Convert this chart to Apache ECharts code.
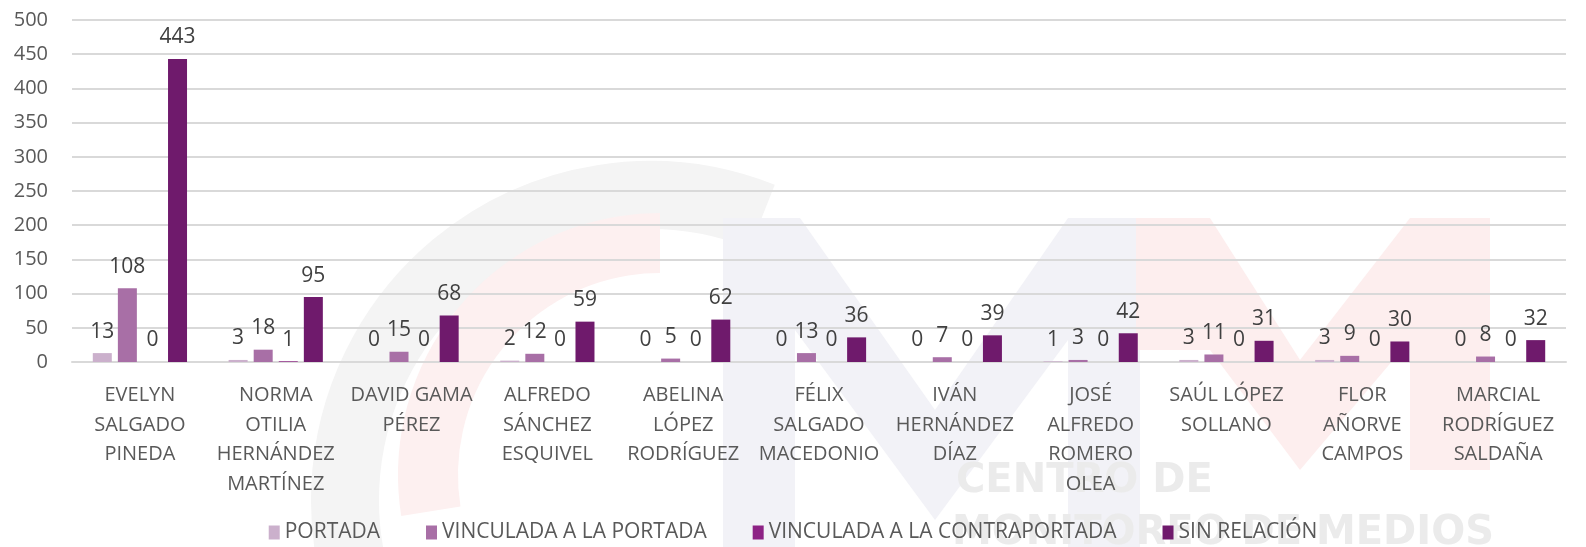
<!DOCTYPE html>
<html>
<head>
<meta charset="utf-8">
<script src="https://cdn.jsdelivr.net/npm/echarts@6/dist/echarts.min.js"></script>
<style>
html,body{margin:0;padding:0;background:#fff;}
#c{width:1586px;height:547px;}
</style>
</head>
<body>
<div id="c"></div>
<script>
var categories = [
  "EVELYN\nSALGADO\nPINEDA",
  "NORMA\nOTILIA\nHERNÁNDEZ\nMARTÍNEZ",
  "DAVID GAMA\nPÉREZ",
  "ALFREDO\nSÁNCHEZ\nESQUIVEL",
  "ABELINA\nLÓPEZ\nRODRÍGUEZ",
  "FÉLIX\nSALGADO\nMACEDONIO",
  "IVÁN\nHERNÁNDEZ\nDÍAZ",
  "JOSÉ\nALFREDO\nROMERO\nOLEA",
  "SAÚL LÓPEZ\nSOLLANO",
  "FLOR\nAÑORVE\nCAMPOS",
  "MARCIAL\nRODRÍGUEZ\nSALDAÑA"
];
var seriesNames = ["PORTADA", "VINCULADA A LA PORTADA", "VINCULADA A LA CONTRAPORTADA", "SIN RELACIÓN"];
var portada = [13, 3, 0, 2, 0, 0, 0, 1, 3, 3, 0];
var vinculadaPortada = [108, 18, 15, 12, 5, 13, 7, 3, 11, 9, 8];
var vinculadaContraportada = [0, 1, 0, 0, 0, 0, 0, 0, 0, 0, 0];
var sinRelacion = [443, 95, 68, 59, 62, 36, 39, 42, 31, 30, 32];
var yTicks = [0, 50, 100, 150, 200, 250, 300, 350, 400, 450, 500];

var colors = ["#CBB0CC", "#A86FA6", "#8D2285", "#6F1A6C"];
var FONT = "'Open Sans', sans-serif";
var TXT = "#595959";

var chart = echarts.init(document.getElementById('c'), null, {renderer: 'canvas'});

function mk(name, data, i) {
  return {
    name: name, type: 'bar', data: data,
    barWidth: 19, barGap: '32%',
    itemStyle: {color: colors[i]},
    label: {show: true, position: 'top', distance: 11, color: '#404040', fontSize: 21, fontFamily: FONT},
    z: 5
  };
}

var option = {
  animation: false,
  backgroundColor: '#ffffff',
  color: colors,
  graphic: [
    {type: 'arc', z: -10, silent: true,
     shape: {cx: 650, cy: 500, r: 305, startAngle: Math.PI * 0.78, endAngle: Math.PI * 1.62},
     style: {stroke: '#f4f4f4', lineWidth: 68, fill: null}},
    {type: 'arc', z: -9, silent: true,
     shape: {cx: 660, cy: 475, r: 232, startAngle: Math.PI * 0.95, endAngle: Math.PI * 1.5},
     style: {stroke: '#fdf0f0', lineWidth: 60, fill: null}},
    {type: 'polygon', z: -8, silent: true,
     shape: {points: [[723,218],[800,218],[935,410],[1068,218],[1140,218],[1140,547],[1068,547],[1068,340],[935,520],[795,330],[795,547],[723,547]]},
     style: {fill: '#f2f2f7'}},
    {type: 'polygon', z: -8, silent: true,
     shape: {points: [[1136,218],[1210,218],[1300,360],[1410,218],[1490,218],[1490,470],[1410,470],[1410,340],[1300,470],[1210,350],[1136,350]]},
     style: {fill: '#fdeeee'}},
    {type: 'text', z: -7, silent: true, left: 956, top: 462,
     style: {text: 'CENTRO DE', fill: '#ebebeb', font: 'bold 40px "DejaVu Sans", sans-serif'}},
    {type: 'text', z: -7, silent: true, left: 952, top: 514,
     style: {text: 'MONITOREO DE MEDIOS', fill: '#ebebeb', font: 'bold 40px "DejaVu Sans", sans-serif'}}
  ],
  grid: {left: 72, right: 20, top: 20, bottom: 185, containLabel: false},
  legend: {
    data: seriesNames,
    top: 517, left: 'center',
    itemWidth: 11, itemHeight: 14, itemGap: 46,
    icon: 'rect',
    textStyle: {color: TXT, fontSize: 21, fontFamily: FONT}
  },
  xAxis: {
    type: 'category', data: categories,
    axisLine: {lineStyle: {color: '#d9d9d9', width: 2}},
    axisTick: {show: false},
    axisLabel: {interval: 0, color: TXT, fontSize: 20, fontFamily: FONT, lineHeight: 29.5, margin: 19, align: 'center'}
  },
  yAxis: {
    type: 'value', min: 0, max: 500, interval: 50,
    axisLine: {show: false}, axisTick: {show: false},
    splitLine: {lineStyle: {color: '#d9d9d9', width: 2}},
    axisLabel: {color: TXT, fontSize: 20, fontFamily: FONT, margin: 24,
      formatter: function (v) { return yTicks.indexOf(v) >= 0 ? String(v) : ''; }}
  },
  series: [
    mk(seriesNames[0], portada, 0),
    mk(seriesNames[1], vinculadaPortada, 1),
    mk(seriesNames[2], vinculadaContraportada, 2),
    mk(seriesNames[3], sinRelacion, 3)
  ]
};
chart.setOption(option);
</script>
</body>
</html>
